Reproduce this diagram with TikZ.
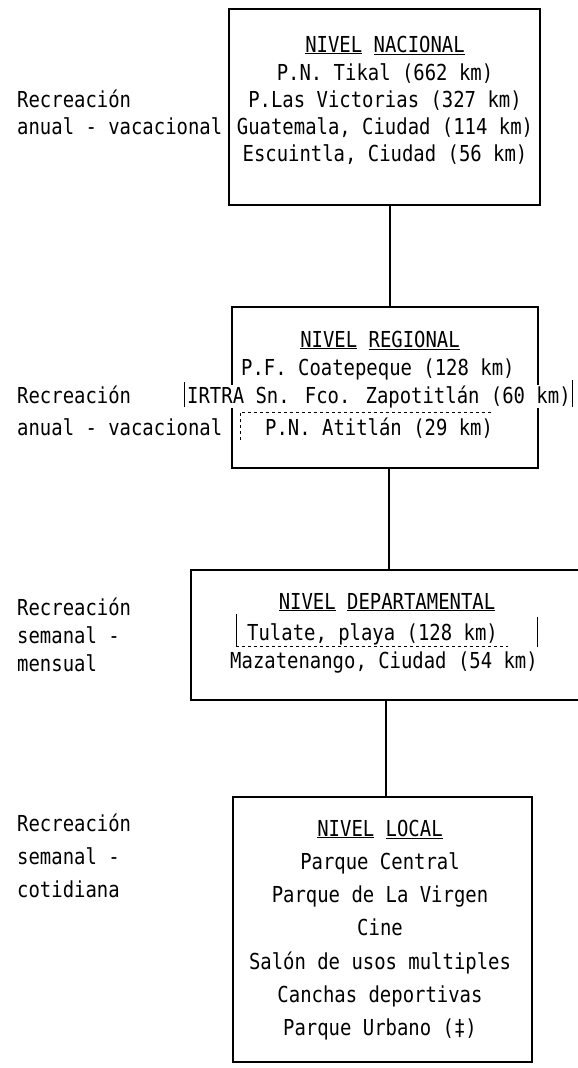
\documentclass[tikz,border=0pt]{standalone}
\usepackage{fontspec}
\newfontfamily\maquina[FakeStretch=0.86]{DejaVu Sans Mono}
\newcommand\letra{\maquina\fontsize{22}{22}\selectfont}

\tikzset{
  caja/.style={draw, line width=1.5pt, inner sep=0pt},
  linea/.style={inner sep=0pt, anchor=base, font=\letra},
  izq/.style={inner sep=0pt, anchor=base west, font=\letra},
  conector/.style={line width=1.5pt},
  marca/.style={line width=0.7pt},
}

\begin{document}
\begin{tikzpicture}[x=1pt, y=-1pt]
\useasboundingbox (0,0) rectangle (578,1068);
\clip (0,0) rectangle (578,1068);

% nivel nacional
\node[caja, minimum width=311pt, minimum height=196pt] (nacional) at (384.5,107) {};
\node[linea] (nac0) at (385,52) {\underline{NIVEL} \underline{NACIONAL}};
\node[linea] (nac1) at (385,80) {P.N. Tikal (662 km)};
\node[linea] (nac2) at (385,107) {P.Las Victorias (327 km)};
\node[linea] (nac3) at (385,134) {Guatemala, Ciudad (114 km)};
\node[linea] (nac4) at (385,161) {Escuintla, Ciudad (56 km)};
\node[izq] (rnac1) at (17,107) {Recreación};
\node[izq] (rnac2) at (17,134) {anual - vacacional};

% nivel regional
\node[caja, minimum width=306pt, minimum height=161pt] (regional) at (385,387.5) {};
\node[linea] (reg0) at (380,347) {\underline{NIVEL} \underline{REGIONAL}};
\node[izq] (reg1) at (241,375) {P.F. Coatepeque (128 km)};
\node[izq, fill=white] (reg2) at (187,403) {IRTRA Sn. Fco. Zapotitlán (60 km)};
\node[izq] (reg3) at (265,435) {P.N. Atitlán (29 km)};
\node[izq] (rreg1) at (17,403) {Recreación};
\node[izq] (rreg2) at (17,435) {anual - vacacional};
% recortes pegados
\draw[marca] (184,382) -- (184,407);
\draw[marca] (572,380) -- (572,407);
\draw[marca, dashed] (240,440) -- (240,412) -- (492,412);

% nivel departamental
\node[caja, minimum width=409pt, minimum height=130pt] (departamental) at (395.5,635) {};
\node[linea] (dep0) at (387,609) {\underline{NIVEL} \underline{DEPARTAMENTAL}};
\node[izq] (dep1) at (247,640) {Tulate, playa (128 km)};
\node[linea] (dep2) at (384,668) {Mazatenango, Ciudad (54 km)};
\node[izq] (rdep1) at (17,615) {Recreación};
\node[izq] (rdep2) at (17,643) {semanal -};
\node[izq] (rdep3) at (17,671) {mensual};
% recortes pegados
\draw[marca] (236,614) -- (236,646);
\draw[marca, dashed] (236,646) -- (508,646);
\draw[marca] (537,617) -- (537,647);

% nivel local
\node[caja, minimum width=299pt, minimum height=265pt] (local) at (382.5,929.5) {};
\foreach \t [count=\i from 0] in {{\underline{NIVEL} \underline{LOCAL}}, Parque Central,
    Parque de La Virgen, Cine, Salón de usos multiples, Canchas deportivas,
    Parque Urbano (‡)}
  \node[linea] (loc\i) at (380,836+33.3*\i) {\t};
\node[izq] (rloc1) at (17,831) {Recreación};
\node[izq] (rloc2) at (17,864) {semanal -};
\node[izq] (rloc3) at (17,897) {cotidiana};

% uniones
\draw[conector] ([xshift=5.5pt]nacional.south) -- ([xshift=5.5pt]nacional.south |- regional.north);
\draw[conector] ([xshift=4pt]regional.south) -- ([xshift=4pt]regional.south |- departamental.north);
\draw[conector] ([xshift=-9.5pt]departamental.south) -- ([xshift=-9.5pt]departamental.south |- local.north);

\end{tikzpicture}
\end{document}
